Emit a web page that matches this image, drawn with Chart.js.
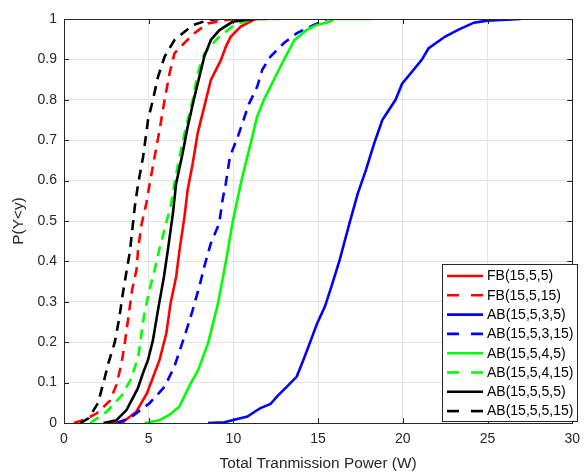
<!DOCTYPE html>
<html lang="en">
<head>
  <meta charset="UTF-8">
  <title>CDF of Total Transmission Power</title>
  <script src="https://cdn.jsdelivr.net/npm/chart.js"></script>
  <style>
    html, body { margin: 0; padding: 0; background: #fff; }
    canvas { display: block; }
  </style>
</head>
<body>
  <canvas id="cdfChart" width="588" height="474"></canvas>

  <script>
    // x ticks / y ticks
    const xTicks = [0, 5, 10, 15, 20, 25, 30];
    const yTicks = [0, 0.1, 0.2, 0.3, 0.4, 0.5, 0.6, 0.7, 0.8, 0.9, 1];

    const seriesNames = ['FB(15,5,5)', 'FB(15,5,15)', 'AB(15,5,3,5)', 'AB(15,5,3,15)',
                         'AB(15,5,4,5)', 'AB(15,5,4,15)', 'AB(15,5,5,5)', 'AB(15,5,5,15)'];

    // FB(15,5,5)
    const fb5X = [2.72, 3.5, 4.27, 4.9, 5.3, 5.64, 6.04, 6.29, 6.62, 6.82, 7.11, 7.3, 7.6, 7.89, 8.28, 8.67, 9.26, 9.55, 9.84, 10.43, 11.2, 11.4];
    const fb5Y = [0, 0.003, 0.028, 0.074, 0.118, 0.156, 0.222, 0.296, 0.362, 0.428, 0.51, 0.577, 0.643, 0.717, 0.783, 0.849, 0.898, 0.931, 0.956, 0.981, 0.998, 1];

    // FB(15,5,15)
    const fb15X = [0.58, 1.2, 1.94, 2.71, 3.1, 3.4, 3.59, 3.83, 4.02, 4.28, 4.38, 4.57, 4.86, 5.06, 5.35, 5.64, 5.94, 6.23, 6.52, 6.85, 7.7, 8.48, 9.65, 10.2, 12.2];
    const fb15Y = [0, 0.008, 0.024, 0.055, 0.095, 0.149, 0.198, 0.271, 0.329, 0.379, 0.432, 0.49, 0.544, 0.593, 0.659, 0.725, 0.8, 0.865, 0.915, 0.93, 0.965, 0.989, 0.998, 1, 1];

    // AB(15,5,3,5)
    const ab35X = [8.5, 9.47, 10.05, 10.83, 11.3, 11.6, 12.19, 12.58, 13.16, 13.74, 14.13, 14.62, 14.91, 15.4, 15.78, 16.27, 16.85, 17.34, 17.82, 18.31, 18.79, 19.57, 19.96, 21.12, 21.51, 22.48, 23.26, 24.2, 24.99, 26.95];
    const ab35Y = [0, 0.002, 0.008, 0.016, 0.029, 0.037, 0.047, 0.066, 0.09, 0.115, 0.156, 0.21, 0.243, 0.288, 0.337, 0.403, 0.494, 0.568, 0.626, 0.692, 0.75, 0.8, 0.84, 0.899, 0.927, 0.956, 0.973, 0.991, 0.996, 1];

    // AB(15,5,3,15)
    const ab315X = [3.1, 3.88, 5.05, 5.94, 6.52, 6.91, 7.3, 7.6, 7.99, 8.28, 8.67, 9.16, 9.36, 9.55, 9.8, 10.23, 10.92, 11.4, 11.7, 12.19, 12.97, 13.75, 14.53, 15.5, 15.9];
    const ab315Y = [0, 0.012, 0.049, 0.09, 0.14, 0.189, 0.239, 0.28, 0.338, 0.387, 0.445, 0.494, 0.552, 0.593, 0.66, 0.705, 0.79, 0.832, 0.874, 0.907, 0.94, 0.965, 0.981, 1, 1];

    // AB(15,5,4,5)
    const ab45X = [4.76, 5.63, 6.21, 6.8, 7.48, 7.92, 8.5, 9.09, 9.57, 9.94, 10.23, 10.53, 11.02, 11.4, 11.8, 12.38, 12.97, 13.6, 14.33, 14.9, 15.7, 15.9, 18.2];
    const ab45Y = [0, 0.007, 0.02, 0.04, 0.098, 0.131, 0.197, 0.296, 0.403, 0.494, 0.552, 0.61, 0.692, 0.758, 0.8, 0.849, 0.898, 0.948, 0.973, 0.985, 0.993, 1, 1];

    // AB(15,5,4,15)
    const ab415X = [1.55, 2.52, 3.4, 3.95, 4.38, 4.73, 5.0, 5.35, 5.64, 5.98, 6.33, 6.52, 6.82, 7.2, 7.6, 7.89, 8.28, 9.06, 10.04, 11.0, 11.6, 12.77];
    const ab415Y = [0, 0.028, 0.068, 0.108, 0.164, 0.267, 0.321, 0.379, 0.432, 0.486, 0.544, 0.593, 0.659, 0.733, 0.8, 0.865, 0.915, 0.952, 0.985, 0.998, 1, 1];

    // AB(15,5,5,5)
    const ab55X = [2.33, 3.1, 3.69, 4.35, 4.66, 4.96, 5.25, 5.55, 5.9, 6.13, 6.43, 6.62, 7.0, 7.3, 7.7, 7.99, 8.28, 8.67, 9.16, 9.94, 11.2];
    const ab55Y = [0, 0.007, 0.032, 0.085, 0.123, 0.156, 0.205, 0.28, 0.362, 0.428, 0.519, 0.593, 0.667, 0.733, 0.807, 0.857, 0.907, 0.948, 0.972, 0.993, 1];

    // AB(15,5,5,15)
    const ab515X = [0.97, 1.46, 2.0, 2.32, 2.62, 3.0, 3.26, 3.46, 3.69, 3.89, 4.18, 4.38, 4.67, 4.96, 5.25, 5.55, 5.94, 6.52, 7.6, 8.57, 9.16];
    const ab515Y = [0, 0.012, 0.049, 0.098, 0.148, 0.2, 0.259, 0.317, 0.375, 0.424, 0.536, 0.593, 0.659, 0.75, 0.8, 0.857, 0.907, 0.948, 0.985, 0.998, 1];

    const seriesX = [fb5X, fb15X, ab35X, ab315X, ab45X, ab415X, ab55X, ab515X];
    const seriesY = [fb5Y, fb15Y, ab35Y, ab315Y, ab45Y, ab415Y, ab55Y, ab515Y];
    const colors = ['#ff0000', '#ff0000', '#0000ff', '#0000ff', '#00ff00', '#00ff00', '#000000', '#000000'];
    const DASH = [10, 7];

    const datasets = seriesNames.map(function (name, i) {
      return {
        label: name,
        data: seriesX[i].map(function (x, k) { return { x: x, y: seriesY[i][k] }; }),
        borderColor: colors[i],
        borderWidth: 2.6,
        borderDash: i % 2 === 1 ? DASH : [],
        pointRadius: 0,
        tension: 0,
        fill: false,
        order: seriesNames.length - i   // later series drawn on top, like MATLAB
      };
    });

    const FONT = "'Liberation Sans', Arial, Helvetica, sans-serif";
    const TXT = '#262626';

    // box, inner ticks and legend, MATLAB style
    const matlabBox = {
      id: 'matlabBox',
      afterDatasetsDraw(chart) {
        const ctx = chart.ctx;
        const a = chart.chartArea;
        const xs = chart.scales.x, ys = chart.scales.y;
        ctx.save();
        ctx.strokeStyle = TXT;
        ctx.lineWidth = 1;
        ctx.beginPath();
        xTicks.forEach(function (v) {
          const px = Math.round(xs.getPixelForValue(v)) + 0.5;
          ctx.moveTo(px, a.bottom); ctx.lineTo(px, a.bottom - 5);
          ctx.moveTo(px, a.top); ctx.lineTo(px, a.top + 5);
        });
        yTicks.forEach(function (v) {
          const py = Math.round(ys.getPixelForValue(v)) + 0.5;
          ctx.moveTo(a.left, py); ctx.lineTo(a.left + 5, py);
          ctx.moveTo(a.right, py); ctx.lineTo(a.right - 5, py);
        });
        ctx.stroke();
        ctx.strokeRect(Math.round(a.left) + 0.5, Math.round(a.top) + 0.5,
                       Math.round(a.right - a.left), Math.round(a.bottom - a.top));

        // legend (south-east)
        const lx = 442, ly = 264, lw = 135, lh = 157;
        ctx.fillStyle = '#fff';
        ctx.fillRect(lx, ly, lw, lh);
        ctx.strokeStyle = TXT;
        ctx.strokeRect(lx + 0.5, ly + 0.5, lw, lh);
        ctx.font = '14px ' + FONT;
        ctx.textBaseline = 'middle';
        ctx.textAlign = 'left';
        chart.data.datasets.forEach(function (ds, i) {
          const cy = 276 + i * 19.3;
          ctx.beginPath();
          ctx.strokeStyle = ds.borderColor;
          ctx.lineWidth = ds.borderWidth;
          ctx.setLineDash(ds.borderDash.length ? [12, 12] : []);
          ctx.moveTo(447, cy); ctx.lineTo(483, cy);
          ctx.stroke();
          ctx.setLineDash([]);
          ctx.fillStyle = '#000';
          ctx.fillText(ds.label, 487, cy + 0.5);
        });
        ctx.restore();
      }
    };

    new Chart(document.getElementById('cdfChart'), {
      type: 'line',
      data: { datasets: datasets },
      options: {
        responsive: false,
        animation: false,
        layout: { padding: { top: 19, right: 9, left: 0, bottom: 0 } },
        plugins: { legend: { display: false }, tooltip: { enabled: false } },
        scales: {
          x: {
            type: 'linear',
            min: 0, max: 30,
            afterFit: function (s) { s.height = 51; },
            afterBuildTicks: function (s) { s.ticks = xTicks.map(function (v) { return { value: v }; }); },
            grid: { color: '#e3e3e3', drawTicks: false },
            border: { display: false },
            ticks: { color: TXT, font: { family: FONT, size: 14 }, padding: 8, maxRotation: 0 },
            title: { display: true, text: 'Total Tranmission Power (W)', color: TXT,
                     font: { family: FONT, size: 15.4 }, padding: { top: 0, bottom: 1 } }
          },
          y: {
            min: 0, max: 1,
            afterFit: function (s) { s.width = 64; },
            afterBuildTicks: function (s) { s.ticks = yTicks.map(function (v) { return { value: v }; }); },
            grid: { color: '#e3e3e3', drawTicks: false },
            border: { display: false },
            ticks: { color: TXT, font: { family: FONT, size: 14 }, padding: 7,
                     callback: function (v) { return String(v); } },
            title: { display: true, text: 'P(Y<y)', color: TXT,
                     font: { family: FONT, size: 15.4 }, padding: { top: 10, bottom: 0 } }
          }
        }
      },
      plugins: [matlabBox]
    });
  </script>
</body>
</html>
